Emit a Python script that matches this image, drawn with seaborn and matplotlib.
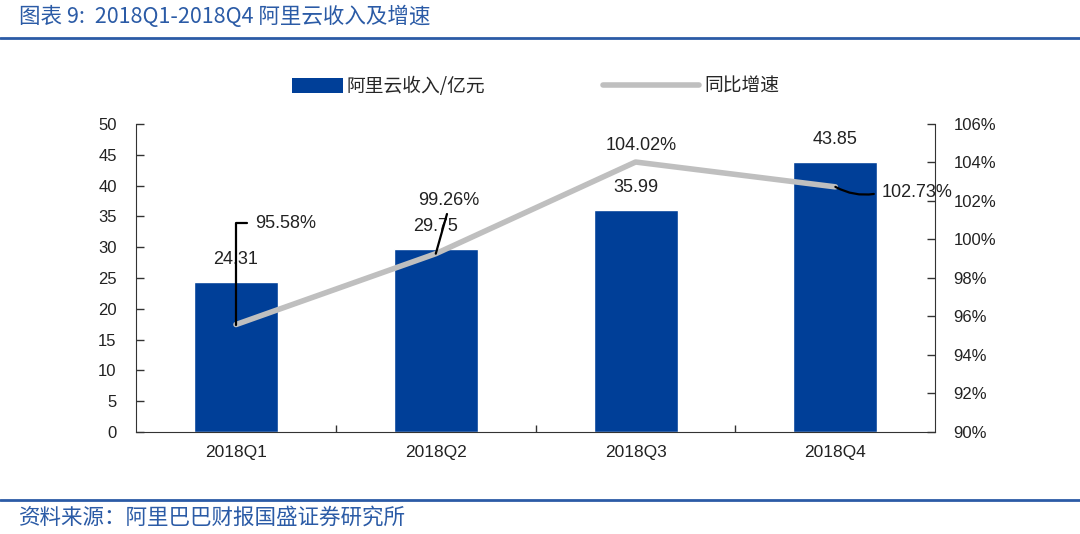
import numpy as np
import pandas as pd
import seaborn as sns
import matplotlib.pyplot as plt
from matplotlib.lines import Line2D
from matplotlib.patches import Patch

# dati
quarters = ['2018Q1', '2018Q2', '2018Q3', '2018Q4']
revenue = [24.31, 29.75, 35.99, 43.85]
growth = [95.58, 99.26, 104.02, 102.73]
revenue_labels = ['24.31', '29.75', '35.99', '43.85']
growth_labels = ['95.58%', '99.26%', '104.02%', '102.73%']

title_text = '图表 9:  2018Q1-2018Q4 阿里云收入及增速'
source_text = '资料来源：阿里巴巴财报国盛证券研究所'
bar_name = '阿里云收入/亿元'
line_name = '同比增速'

df = pd.DataFrame({'quarter': quarters, 'revenue': revenue, 'growth': growth})

sns.set_style('white')
plt.rcParams['font.family'] = ['Liberation Sans', 'Noto Sans CJK SC', 'DejaVu Sans']
cjk = ['Noto Sans CJK SC', 'DejaVu Sans']

bar_color = '#003F98'
line_color = '#BFBFBF'
blue = '#2B5BA6'

fig = plt.figure(figsize=(10.8, 5.34), dpi=100)
ax = fig.add_axes([0.126, 0.191, 0.74, 0.577])

sns.barplot(data=df, x='quarter', y='revenue', color=bar_color, width=0.42,
            saturation=1, ax=ax)
ax.set_xlim(-0.5, 3.5)
ax.set_ylim(0, 50)
ax.set_yticks(range(0, 51, 5))
ax.set_xlabel('')
ax.set_ylabel('')
ax.bar_label(ax.containers[0], labels=revenue_labels, padding=10, fontsize=13,
             color='#222222')

ax2 = ax.twinx()
sns.lineplot(data=df, x='quarter', y='growth', color=line_color, linewidth=4,
             ax=ax2)
ax2.set_ylim(90, 106)
ax2.set_yticks(range(90, 107, 2))
ax2.set_yticklabels([f'{v}%' for v in range(90, 107, 2)])
ax2.set_ylabel('')
ax2.set_xlim(-0.5, 3.5)

for a in (ax, ax2):
    a.spines['top'].set_visible(False)
    a.spines['left'].set_color('#333333')
    a.spines['right'].set_color('#333333')
    a.spines['bottom'].set_color('#333333')
ax.spines['right'].set_visible(False)
ax2.spines['left'].set_visible(False)
ax2.spines['bottom'].set_visible(False)

ax.tick_params(axis='y', direction='in', length=6, width=1, colors='#333333',
               labelsize=12, labelcolor='#222222', pad=14, left=True)
ax2.tick_params(axis='y', direction='in', length=6, width=1, colors='#333333',
                labelsize=12, labelcolor='#222222', pad=13, right=True)
ax.set_xticks([0.5, 1.5, 2.5], minor=True)
ax.tick_params(axis='x', which='minor', direction='in', length=5, width=1,
               colors='#333333', bottom=True)
ax.tick_params(axis='x', which='major', length=0, labelsize=12.5,
               labelcolor='#222222', pad=9)

# etichette della linea con linee guida
ax2.annotate(growth_labels[0], xy=(0, growth[0]), xytext=(14, 73),
             textcoords='offset points', ha='left', va='center', fontsize=13,
             color='#222222',
             arrowprops=dict(arrowstyle='-', color='black', lw=1.6,
                             connectionstyle='angle,angleA=0,angleB=90,rad=0',
                             relpos=(0, 0.5), shrinkA=4, shrinkB=0))
ax2.annotate(growth_labels[1], xy=(1, growth[1]), xytext=(9, 38),
             textcoords='offset points', ha='center', va='center', fontsize=13,
             color='#222222',
             arrowprops=dict(arrowstyle='-', color='black', lw=1.6,
                             relpos=(0.5, 0), shrinkA=1, shrinkB=0))
ax2.annotate(growth_labels[2], xy=(2, growth[2]), xytext=(4, 12),
             textcoords='offset points', ha='center', va='center', fontsize=13,
             color='#222222')
ax2.annotate(growth_labels[3], xy=(3, growth[3]), xytext=(33, -4),
             textcoords='offset points', ha='left', va='center', fontsize=13,
             color='#222222',
             arrowprops=dict(arrowstyle='-', color='black', lw=1.6,
                             connectionstyle='arc3,rad=-0.2',
                             relpos=(0, 0.5), shrinkA=3, shrinkB=0))

# legenda
fig.legend(handles=[Patch(facecolor=bar_color, edgecolor='none')],
           labels=[bar_name], loc='center left',
           bbox_to_anchor=(0.255, 0.838), frameon=False,
           handlelength=2.7, handleheight=0.8, handletextpad=0.2,
           prop={'family': cjk, 'size': 13.5})
fig.legend(handles=[Line2D([0], [0], color=line_color, lw=4)],
           labels=[line_name], loc='center left',
           bbox_to_anchor=(0.543, 0.838), frameon=False,
           handlelength=5.1, handletextpad=0.3,
           prop={'family': cjk, 'size': 13.5})

# titolo e fonte
fig.text(0.018, 0.968, title_text, fontsize=15.5, color=blue, style='italic',
         family=cjk, va='center', ha='left')
fig.add_artist(Line2D([0.0, 1.0], [0.928, 0.928], color=blue, lw=2,
                      transform=fig.transFigure))
fig.add_artist(Line2D([0.0, 1.0], [0.063, 0.063], color=blue, lw=2,
                      transform=fig.transFigure))
fig.text(0.018, 0.030, source_text, fontsize=15.5, color=blue, style='italic',
         family=cjk, va='center', ha='left')

fig.savefig('out.png', dpi=100)
